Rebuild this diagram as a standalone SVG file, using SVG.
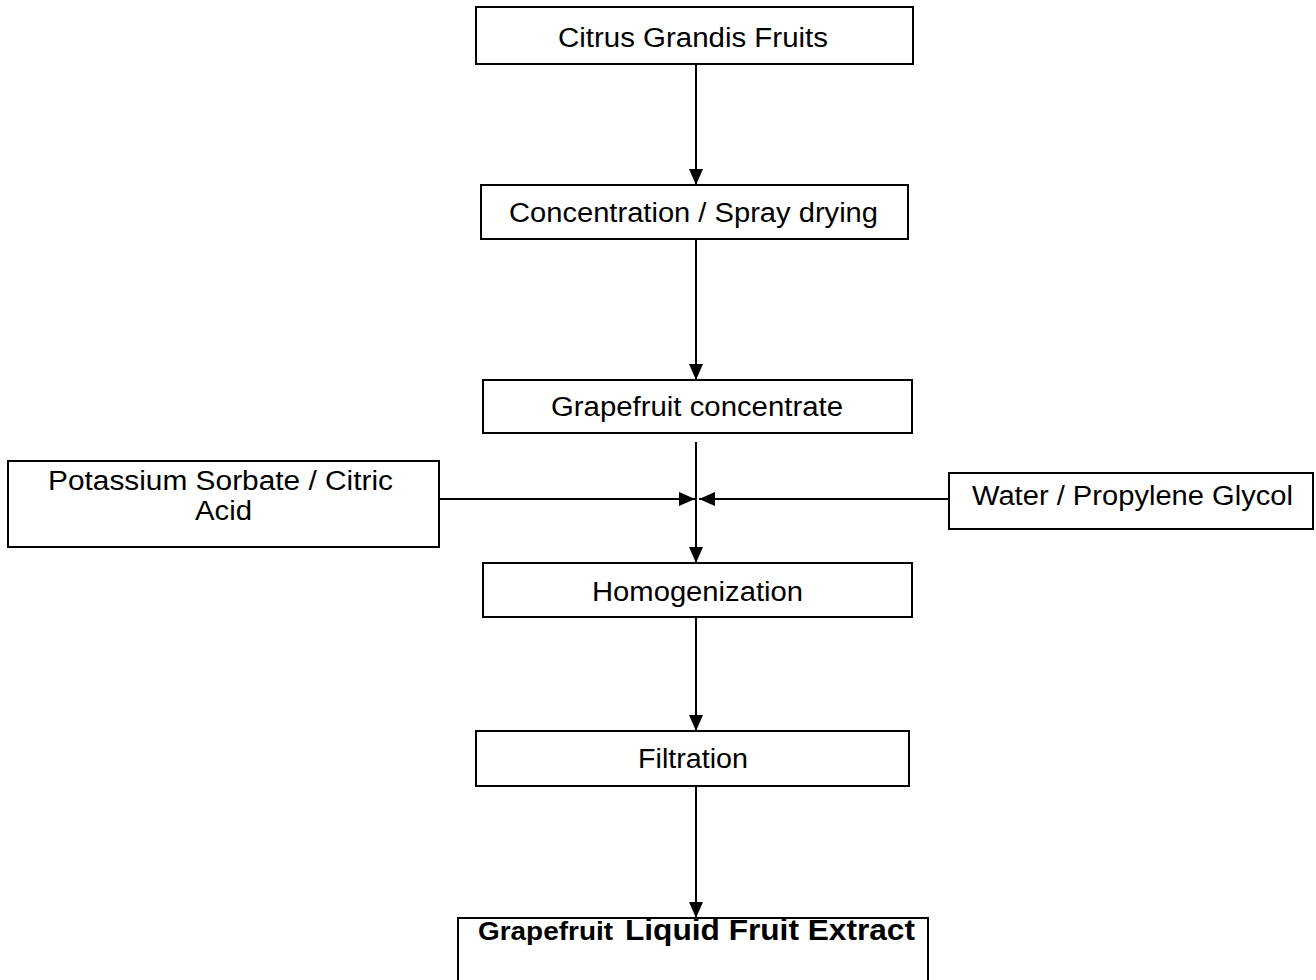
<svg xmlns="http://www.w3.org/2000/svg" width="1316" height="980" viewBox="0 0 1316 980">
<style>
.box{fill:#fff;stroke:#000;stroke-width:2}
.t{font-family:"Liberation Sans",Arial,sans-serif;font-size:27px;fill:#000;text-anchor:middle}
.b{font-family:"Liberation Sans",Arial,sans-serif;font-weight:bold;fill:#000}
.ln{stroke:#000;stroke-width:2;fill:none}
</style>
<defs>
<marker id="ah" viewBox="0 0 16 14" refX="16" refY="7" markerWidth="16" markerHeight="14" markerUnits="userSpaceOnUse" orient="auto">
<path d="M0,0 L16,7 L0,14 Z" fill="#000"/>
</marker>
</defs>
<rect width="1316" height="980" fill="#fff"/>
<g id="connectors">
<line class="ln" x1="696" y1="65" x2="696" y2="185" marker-end="url(#ah)"/>
<line class="ln" x1="696" y1="240" x2="696" y2="380" marker-end="url(#ah)"/>
<line class="ln" x1="696" y1="442" x2="696" y2="563" marker-end="url(#ah)"/>
<line class="ln" x1="440" y1="499" x2="695" y2="499" marker-end="url(#ah)"/>
<line class="ln" x1="949" y1="499" x2="699" y2="499" marker-end="url(#ah)"/>
<line class="ln" x1="696" y1="618" x2="696" y2="731" marker-end="url(#ah)"/>
<line class="ln" x1="696" y1="787" x2="696" y2="918" marker-end="url(#ah)"/>
</g>
<g id="n1"><rect class="box" x="476" y="7" width="437" height="57"/><text class="t" x="693" y="47" textLength="270" lengthAdjust="spacingAndGlyphs">Citrus Grandis Fruits</text></g>
<g id="n2"><rect class="box" x="481" y="185" width="427" height="54"/><text class="t" x="693.5" y="222" textLength="369" lengthAdjust="spacingAndGlyphs">Concentration / Spray drying</text></g>
<g id="n3"><rect class="box" x="483" y="380" width="429" height="53"/><text class="t" x="697" y="416" textLength="292" lengthAdjust="spacingAndGlyphs">Grapefruit concentrate</text></g>
<g id="n4"><rect class="box" x="8" y="461" width="431" height="86"/><text class="t" x="220.5" y="490" textLength="345" lengthAdjust="spacingAndGlyphs">Potassium Sorbate / Citric</text><text class="t" x="223.5" y="520" textLength="57" lengthAdjust="spacingAndGlyphs">Acid</text></g>
<g id="n5"><rect class="box" x="949" y="473" width="364" height="56"/><text class="t" x="1132.5" y="505" textLength="321" lengthAdjust="spacingAndGlyphs">Water / Propylene Glycol</text></g>
<g id="n6"><rect class="box" x="483" y="563" width="429" height="54"/><text class="t" x="697.5" y="601" textLength="211" lengthAdjust="spacingAndGlyphs">Homogenization</text></g>
<g id="n7"><rect class="box" x="476" y="731" width="433" height="55"/><text class="t" x="693" y="768" textLength="110" lengthAdjust="spacingAndGlyphs">Filtration</text></g>
<g id="n8"><rect class="box" x="458" y="918" width="470" height="70"/><text class="b" x="478" y="940" font-size="26px" textLength="135" lengthAdjust="spacingAndGlyphs">Grapefruit</text><text class="b" x="625" y="940" font-size="30px" textLength="290" lengthAdjust="spacingAndGlyphs">Liquid Fruit Extract</text></g>
</svg>
